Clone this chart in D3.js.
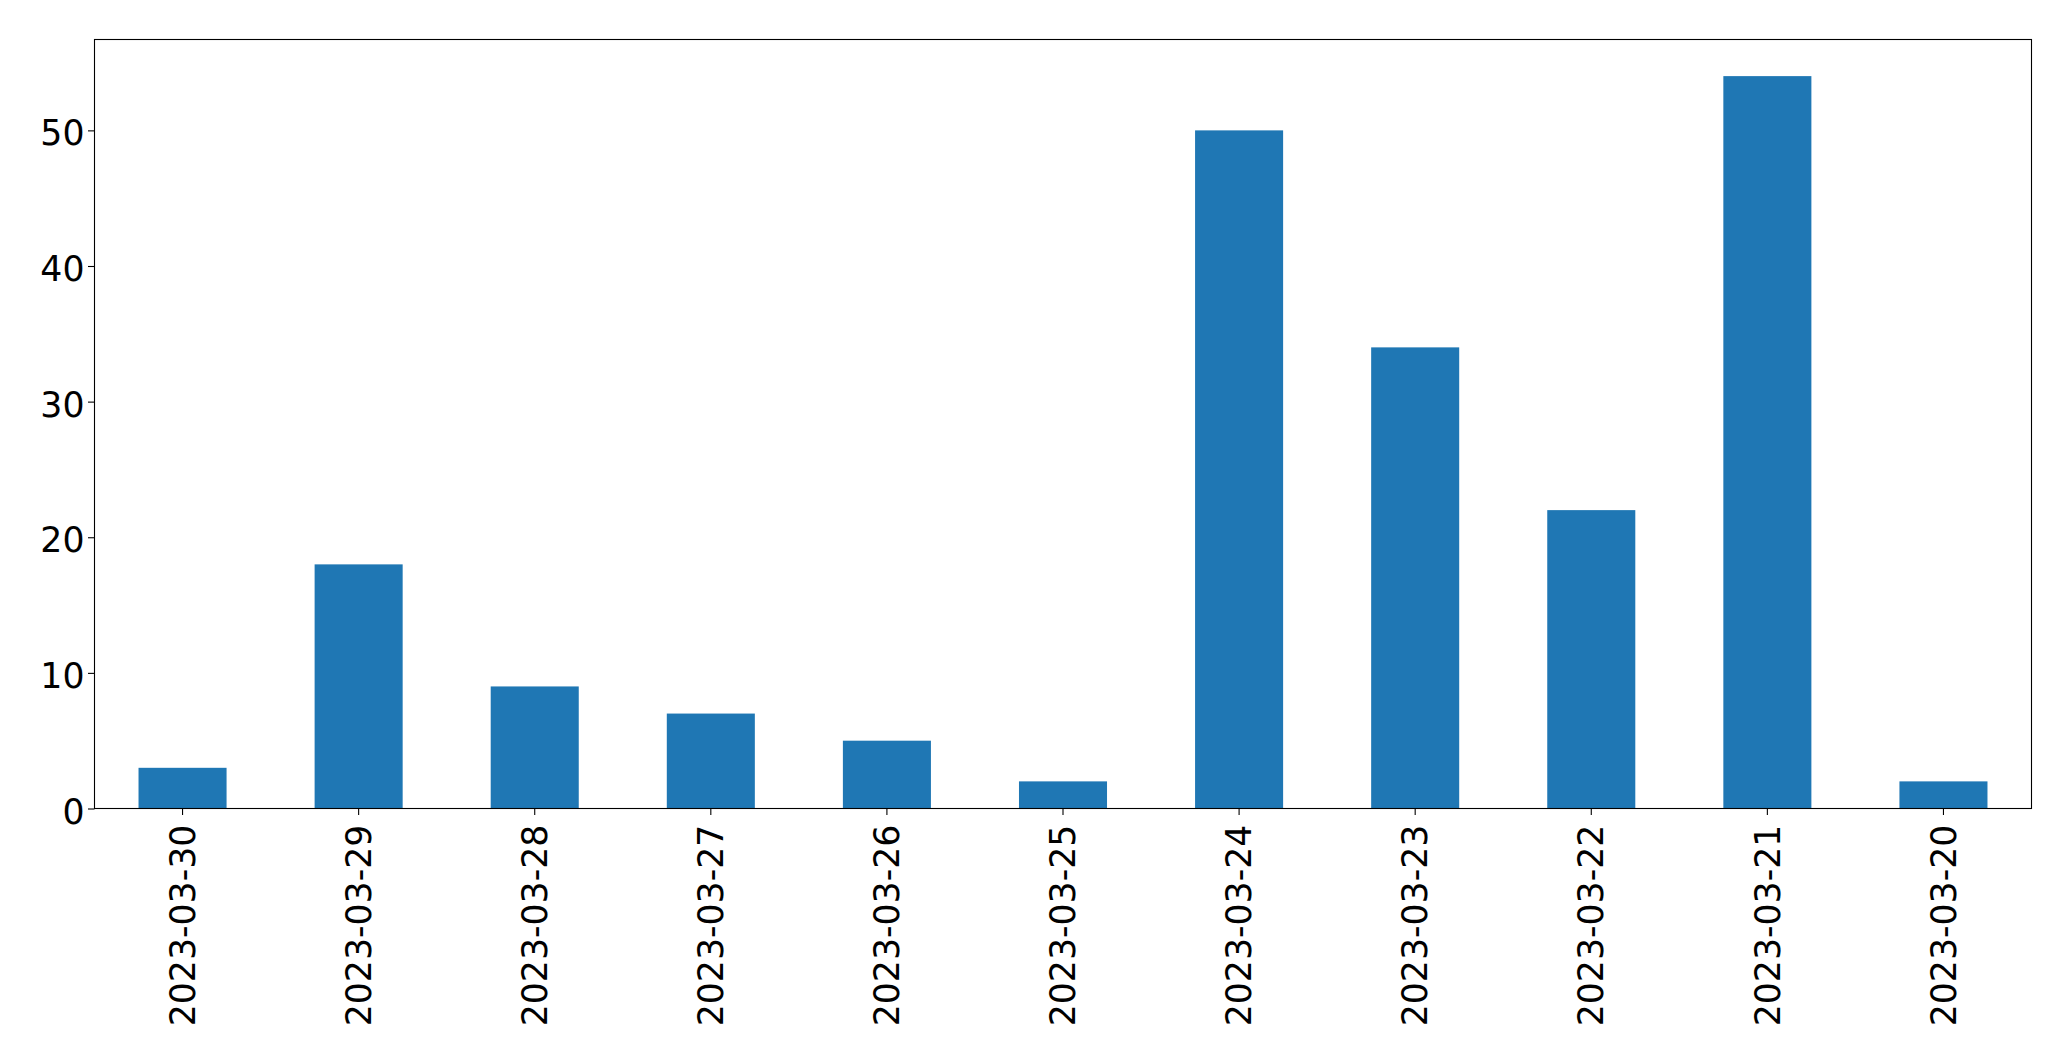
<!DOCTYPE html>
<html>
<head>
<meta charset="utf-8">
<script src="https://cdn.jsdelivr.net/npm/d3@7"></script>
<style>
  html, body { margin: 0; padding: 0; background: #fff; }
  svg { display: block; }
  text { font-family: "DejaVu Sans", sans-serif; fill: #000; }
</style>
</head>
<body>
<svg id="chart" width="2071" height="1061"></svg>
<script>
const categories = ["2023-03-30","2023-03-29","2023-03-28","2023-03-27","2023-03-26","2023-03-25","2023-03-24","2023-03-23","2023-03-22","2023-03-21","2023-03-20"];
const values = [3, 18, 9, 7, 5, 2, 50, 34, 22, 54, 2];
const yTicks = [0, 10, 20, 30, 40, 50];

const W = 2071, H = 1061;
const plot = { left: 94.5, right: 2031.5, top: 39.5, bottom: 808.5 };
const fontSize = 34.7;
const tickLen = 6.5;

const svg = d3.select("#chart");

const x = d3.scaleBand()
  .domain(categories)
  .range([plot.left, plot.right])
  .paddingInner(0.5)
  .paddingOuter(0.25);

const yMax = d3.max(values) * 1.05;
const y = d3.scaleLinear().domain([0, yMax]).range([plot.bottom, plot.top]);

// bars
svg.append("g").selectAll("rect")
  .data(values)
  .join("rect")
  .attr("x", (d, i) => x(categories[i]))
  .attr("width", x.bandwidth())
  .attr("y", d => y(d))
  .attr("height", d => y(0) - y(d))
  .attr("fill", "#1f77b4");

// y axis
const yAxis = d3.axisLeft(y).tickValues(yTicks).tickFormat(d3.format("d"))
  .tickSizeInner(tickLen).tickSizeOuter(0).tickPadding(3.5);
const gy = svg.append("g").attr("transform", `translate(${plot.left},0)`).call(yAxis);
gy.select(".domain").remove();
gy.selectAll("line").attr("stroke", "#000").attr("stroke-width", 1.1);
gy.selectAll("text")
  .style("font-size", fontSize + "px")
  .style("font-family", "DejaVu Sans")
  .attr("fill", "#000")
  .attr("dy", "0.42em");

// x axis
const xAxis = d3.axisBottom(x).tickSizeInner(tickLen).tickSizeOuter(0).tickPadding(0);
const gx = svg.append("g").attr("transform", `translate(0,${plot.bottom})`).call(xAxis);
gx.select(".domain").remove();
gx.selectAll("line").attr("stroke", "#000").attr("stroke-width", 1.1);
gx.selectAll("text")
  .style("font-size", fontSize + "px")
  .style("font-family", "DejaVu Sans")
  .attr("fill", "#000")
  .attr("text-anchor", "end")
  .attr("dy", "0.35em")
  .attr("dx", 0)
  .attr("y", 0)
  .attr("transform", `translate(0,${tickLen + 9.7}) rotate(-90)`);

// frame (spines)
svg.append("rect")
  .attr("x", plot.left).attr("y", plot.top)
  .attr("width", plot.right - plot.left).attr("height", plot.bottom - plot.top)
  .attr("fill", "none").attr("stroke", "#000").attr("stroke-width", 1.1);
</script>
</body>
</html>
